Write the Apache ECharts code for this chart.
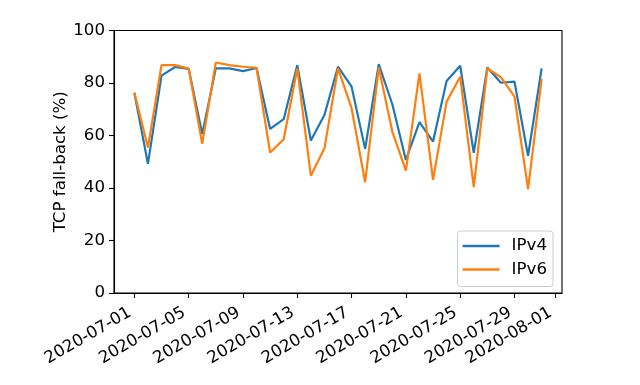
<!DOCTYPE html>
<html>
<head>
<meta charset="utf-8">
<script src="https://cdn.jsdelivr.net/npm/echarts@6/dist/echarts.min.js"></script>
<style>
  html, body { margin: 0; padding: 0; background: #fff; }
  #chart { width: 640px; height: 385px; }
</style>
</head>
<body>
<div id="chart"></div>
<script>
const dates = [
  '2020-07-01','2020-07-02','2020-07-03','2020-07-04','2020-07-05','2020-07-06','2020-07-07','2020-07-08',
  '2020-07-09','2020-07-10','2020-07-11','2020-07-12','2020-07-13','2020-07-14','2020-07-15','2020-07-16',
  '2020-07-17','2020-07-18','2020-07-19','2020-07-20','2020-07-21','2020-07-22','2020-07-23','2020-07-24',
  '2020-07-25','2020-07-26','2020-07-27','2020-07-28','2020-07-29','2020-07-30','2020-07-31'
];
const ipv4 = [76.3, 49.2, 82.8, 86.1, 85.4, 60.6, 85.6, 85.6, 84.5, 85.7, 62.5, 66.2, 86.8, 58.1, 67.8, 86.2,
              78.6, 54.9, 87.2, 71.9, 50.7, 65.1, 57.7, 80.8, 86.6, 53.4, 85.9, 80.1, 80.5, 52.3, 85.6];
const ipv6 = [76.3, 55.4, 86.8, 86.8, 85.5, 56.8, 87.8, 86.8, 86.2, 85.8, 53.5, 58.6, 85.5, 44.7, 55.1, 85.6,
              70.4, 42.2, 85.9, 61.5, 46.6, 83.7, 43.1, 72.9, 82.4, 40.3, 85.6, 82.2, 74.8, 39.6, 81.6];
const tickLabels = ['2020-07-01','2020-07-05','2020-07-09','2020-07-13','2020-07-17','2020-07-21','2020-07-25','2020-07-29','2020-08-01'];
const yTicks = [0, 20, 40, 60, 80, 100];
const seriesNames = ['IPv4', 'IPv6'];

const DAY = 86400000;
function toUTC(s) {
  const p = s.split('-').map(Number);
  return Date.UTC(p[0], p[1] - 1, p[2]);
}
const t0 = toUTC(dates[0]);
function dayOf(s) { return Math.round((toUTC(s) - t0) / DAY); }
const tickDays = tickLabels.map(dayOf);
const xDays = dates.map(dayOf);
const xMin = xDays[0] - 1.5;
const xMax = xDays[xDays.length - 1] + 1.5;
function fmt(v) {
  const i = tickDays.indexOf(Math.round(v));
  return i >= 0 ? tickLabels[i] : '';
}

const FONT = 'DejaVu Sans';
const FS = 16.67;

const chart = echarts.init(document.getElementById('chart'), null, { renderer: 'canvas' });
chart.setOption({
  animation: false,
  backgroundColor: '#fff',
  textStyle: { fontFamily: FONT },
  grid: { left: 114, right: 78, top: 30.5, bottom: 92, show: true, borderColor: '#000', borderWidth: 1.1, backgroundColor: 'transparent' },
  legend: {
    data: seriesNames,
    orient: 'vertical',
    right: 87, top: 231,
    icon: 'rect',
    itemWidth: 37, itemHeight: 2.5,
    itemGap: 3.5,
    padding: [5, 6, 7, 5],
    borderColor: '#cccccc', borderWidth: 1, borderRadius: 3,
    backgroundColor: 'rgba(255,255,255,0.8)',
    textStyle: { fontFamily: FONT, fontSize: FS, color: '#000', lineHeight: 20, padding: [0, 0, 0, 7] }
  },
  xAxis: {
    type: 'value',
    min: xMin, max: xMax,
    axisLine: { show: true, onZero: false, lineStyle: { color: '#000', width: 1.1 } },
    axisTick: { show: true, length: 5, customValues: tickDays, lineStyle: { color: '#000', width: 1.1 } },
    axisLabel: {
      customValues: tickDays, rotate: 30, margin: 16, padding: [0, 5, 0, 0],
      formatter: v => fmt(v), fontFamily: FONT, fontSize: FS, color: '#000',
      hideOverlap: false, showMinLabel: true, showMaxLabel: true
    },
    splitLine: { show: false }
  },
  yAxis: {
    type: 'value',
    min: 0, max: 100, interval: 20,
    name: 'TCP fall-back (%)',
    nameLocation: 'middle', nameGap: 45, nameMoveOverlap: false,
    nameTextStyle: { fontFamily: FONT, fontSize: FS, color: '#000' },
    axisLine: { show: true, onZero: false, lineStyle: { color: '#000', width: 1.1 } },
    axisTick: { show: true, length: 5, lineStyle: { color: '#000', width: 1.1 } },
    axisLabel: { margin: 9, fontFamily: FONT, fontSize: FS, color: '#000', formatter: v => (yTicks.indexOf(v) >= 0 ? String(v) : '') },
    splitLine: { show: false }
  },
  series: [
    { name: seriesNames[0], type: 'line', showSymbol: false, symbol: 'none', color: '#1f77b4',
      lineStyle: { width: 2.2, color: '#1f77b4' }, data: xDays.map((d, i) => [d, ipv4[i]]) },
    { name: seriesNames[1], type: 'line', showSymbol: false, symbol: 'none', color: '#ff7f0e',
      lineStyle: { width: 2.2, color: '#ff7f0e' }, data: xDays.map((d, i) => [d, ipv6[i]]) }
  ]
});
</script>
</body>
</html>
